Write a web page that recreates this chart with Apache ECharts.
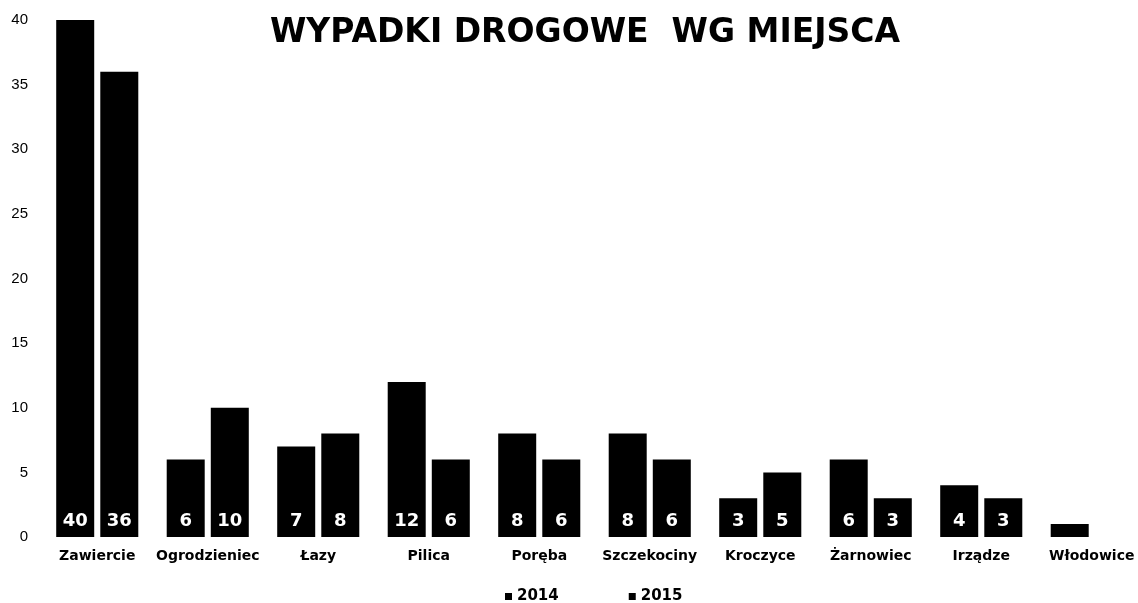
<!DOCTYPE html>
<html><head><meta charset="utf-8">
<script src="https://cdn.jsdelivr.net/npm/echarts@6/dist/echarts.min.js"></script>
<style>html,body{margin:0;padding:0;background:#fff;overflow:hidden;width:1138px;height:603px}#c{width:1150px;height:603px}</style>
</head><body><div id="c"></div>
<script>
const categories = ['Zawiercie','Ogrodzieniec','Łazy','Pilica','Poręba','Szczekociny','Kroczyce','Żarnowiec','Irządze','Włodowice'];
const series2014 = [40, 6, 7, 12, 8, 8, 3, 6, 4, 1];
const series2015 = [36, 10, 8, 6, 6, 6, 5, 3, 3, null];
const yTicks = [0, 5, 10, 15, 20, 25, 30, 35, 40];

const chart = echarts.init(document.getElementById('c'));
const lbl = {
  show: true, position: 'insideBottom', distance: 7, color: '#fff',
  fontFamily: 'DejaVu Sans', fontWeight: 'bold', fontSize: 18,
  formatter: p => (p.value >= 2 ? p.value : '')
};
chart.setOption({
  animation: false,
  title: { text: 'WYPADKI DROGOWE  WG MIEJSCA', left: 580, textAlign: 'center', top: 12,
    textStyle: { fontFamily: 'DejaVu Sans', fontWeight: 'bold', fontSize: 33, color: '#000' } },
  legend: { top: 584, left: 500, itemGap: 70, itemWidth: 7, itemHeight: 7, icon: 'rect',
    textStyle: { fontFamily: 'DejaVu Sans', fontWeight: 'bold', fontSize: 15, color: '#000' },
    data: ['2014', '2015'] },
  grid: { left: 42, width: 1105, top: 20, bottom: 66 },
  xAxis: { type: 'category', data: categories,
    axisLine: { show: false }, axisTick: { show: false },
    axisLabel: { fontFamily: 'DejaVu Sans', fontWeight: 'bold', fontSize: 14, color: '#000', margin: 12, interval: 0 } },
  yAxis: { type: 'value', min: yTicks[0], max: yTicks[yTicks.length - 1], interval: 5,
    splitLine: { show: false }, axisLine: { show: false }, axisTick: { show: false },
    axisLabel: { fontFamily: 'Liberation Sans', fontSize: 15, color: '#000', margin: 14 } },
  series: [
    { name: '2014', type: 'bar', data: series2014, barWidth: 38, barGap: '16%', itemStyle: { color: '#000' }, label: lbl },
    { name: '2015', type: 'bar', data: series2015, barWidth: 38, itemStyle: { color: '#000' }, label: lbl }
  ]
});
</script></body></html>
